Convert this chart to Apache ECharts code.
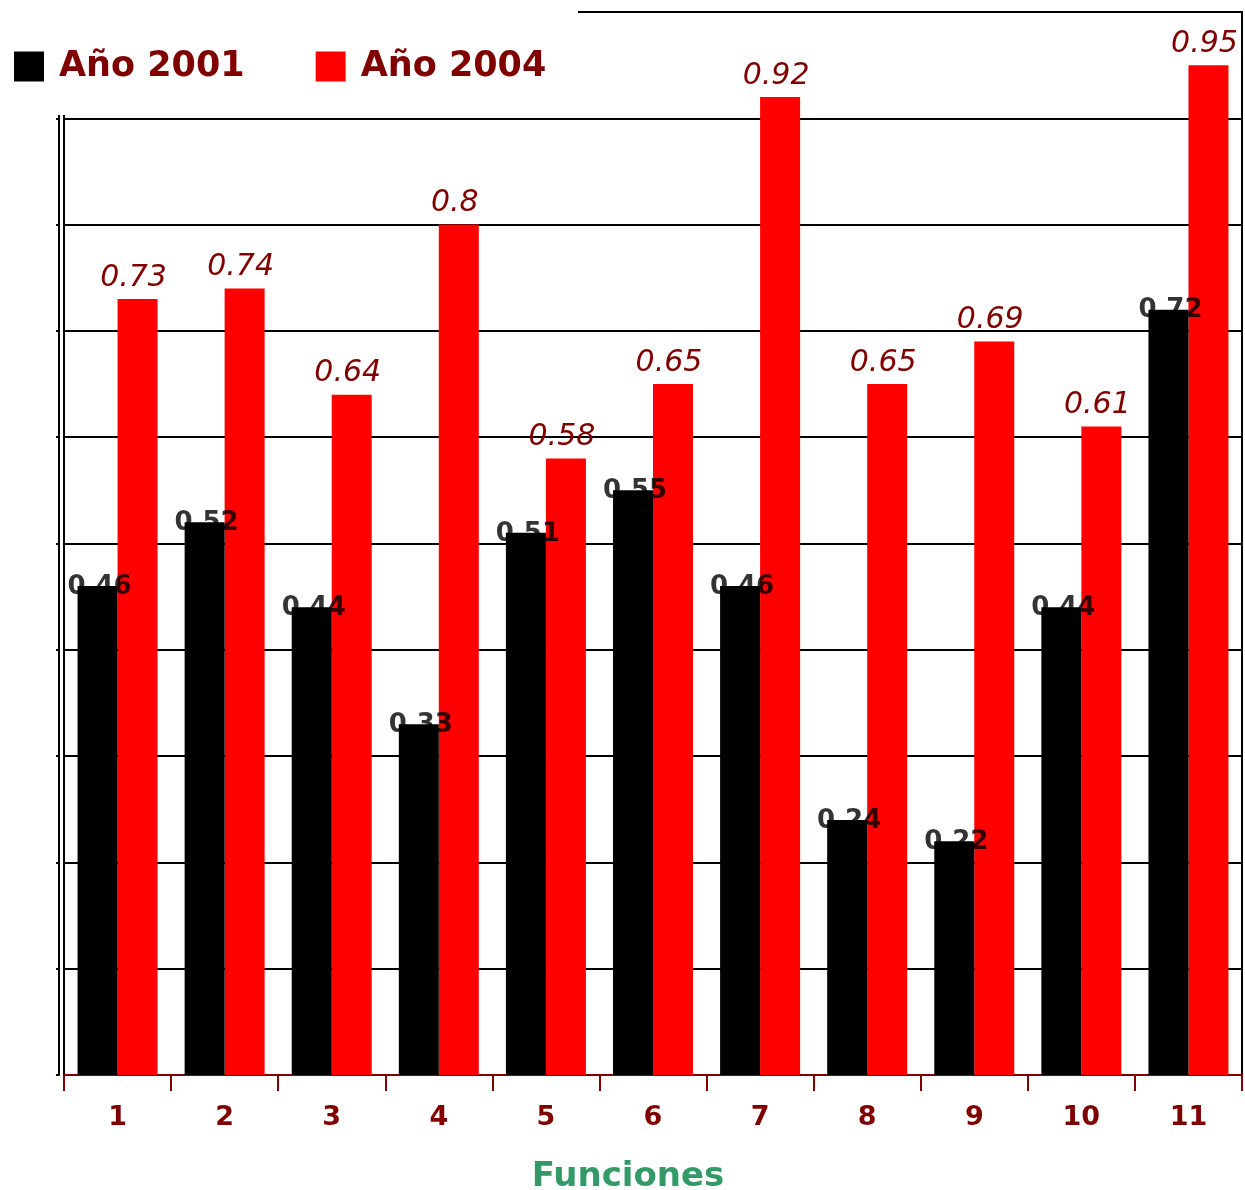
<!DOCTYPE html>
<html>
<head>
<meta charset="utf-8">
<script src="https://cdn.jsdelivr.net/npm/echarts@6/dist/echarts.min.js"></script>
<style>
  html, body { margin: 0; padding: 0; background: #fff; }
  #chart { width: 1245px; height: 1190px; }
</style>
</head>
<body>
<div id="chart"></div>
<script>
// datos
const funciones = ['1', '2', '3', '4', '5', '6', '7', '8', '9', '10', '11']
const anio2001 = [0.46, 0.52, 0.44, 0.33, 0.51, 0.55, 0.46, 0.24, 0.22, 0.44, 0.72]
const anio2004 = [0.73, 0.74, 0.64, 0.8, 0.58, 0.65, 0.92, 0.65, 0.69, 0.61, 0.95]

const font = 'DejaVu Sans'
const rojoOscuro = '#800000'

const chart = echarts.init(document.getElementById('chart'))

const option = {
  backgroundColor: '#fff',
  animation: false,
  legend: {
    data: ['Año 2001', 'Año 2004'],
    left: 14,
    top: 49,
    padding: 0,
    z: 200,
    icon: 'rect',
    itemWidth: 30,
    itemHeight: 30,
    itemGap: 71,
    selectedMode: false,
    textStyle: {
      fontFamily: font,
      fontSize: 35,
      fontWeight: 'bold',
      color: rojoOscuro,
      padding: [0, 0, 0, 10]
    }
  },
  graphic: [
    {
      // tapa la esquina superior izquierda donde va la leyenda
      type: 'rect',
      left: 0,
      top: 0,
      z: 100,
      shape: { width: 578, height: 115 },
      style: { fill: '#fff' }
    }
  ],
  grid: {
    left: 64,
    right: 3,
    top: 12,
    bottom: 115,
    outerBoundsMode: 'none',
    show: true,
    borderColor: '#000',
    borderWidth: 2,
    backgroundColor: '#fff'
  },
  xAxis: {
    type: 'category',
    data: funciones,
    offset: 2,
    axisLine: { lineStyle: { color: rojoOscuro, width: 2 } },
    axisTick: { show: true, length: 16, lineStyle: { color: rojoOscuro, width: 2 } },
    axisLabel: {
      margin: 27,
      fontFamily: font,
      fontSize: 27,
      fontWeight: 'bold',
      color: rojoOscuro
    },
    name: 'Funciones',
    nameLocation: 'middle',
    nameGap: 83,
    nameTextStyle: {
      fontFamily: font,
      fontSize: 34,
      fontWeight: 'bold',
      color: '#339966',
      padding: [0, 50, 0, 0]
    }
  },
  yAxis: [
    {
      type: 'value',
      min: 0,
      max: 1,
      interval: 0.1,
      axisLine: { show: true, lineStyle: { color: '#000', width: 2 } },
      axisTick: { show: false },
      axisLabel: { show: false },
      splitLine: { show: true, lineStyle: { color: '#000', width: 2 } }
    },
    {
      type: 'value',
      min: 0,
      max: 1,
      interval: 0.1,
      position: 'left',
      offset: 5,
      axisLine: { show: true, lineStyle: { color: '#000', width: 2 } },
      axisTick: { show: true, length: 3, lineStyle: { color: '#000', width: 2 } },
      axisLabel: { show: false },
      splitLine: { show: false }
    }
  ],
  series: [
    {
      // barras negras en una capa encima para que tapen sus etiquetas
      name: 'Año 2001',
      type: 'bar',
      data: anio2001,
      barWidth: 40,
      barGap: '0%',
      zlevel: 1,
      silent: true,
      itemStyle: { color: '#000' }
    },
    {
      name: 'Año 2004',
      type: 'bar',
      data: anio2004,
      barWidth: 40,
      z: 2,
      silent: true,
      itemStyle: { color: '#ff0000' },
      label: {
        show: true,
        position: 'top',
        distance: 6,
        offset: [-4, 0],
        fontFamily: font,
        fontSize: 30,
        fontStyle: 'italic',
        color: rojoOscuro
      }
    },
    {
      name: 'etiquetas 2001',
      type: 'scatter',
      data: anio2001,
      z: 3,
      silent: true,
      symbolSize: 1,
      itemStyle: { color: 'rgba(0,0,0,0)' },
      label: {
        show: true,
        position: 'inside',
        offset: [-18, 1],
        fontFamily: font,
        fontSize: 26,
        fontWeight: 'bold',
        color: '#000'
      }
    }
  ]
}

chart.setOption(option)
</script>
</body>
</html>
